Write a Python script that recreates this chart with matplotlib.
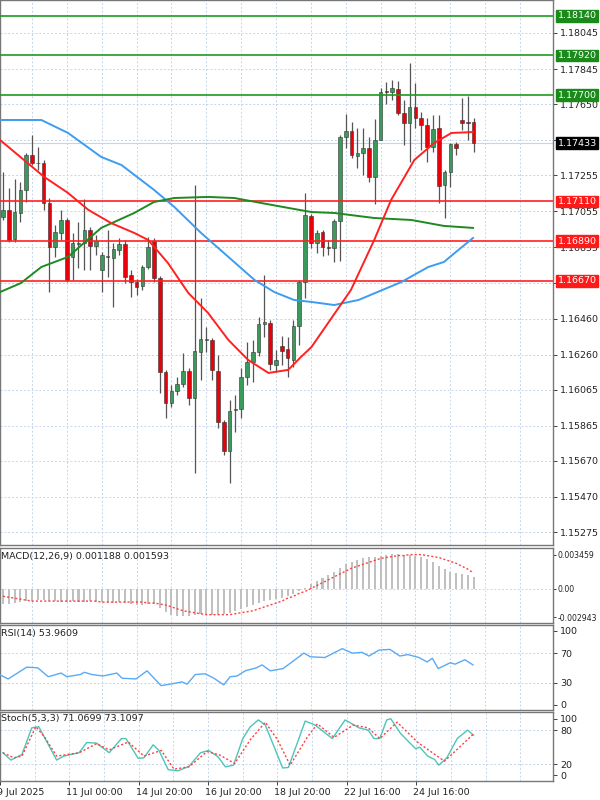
import matplotlib
matplotlib.use("Agg")
import matplotlib.pyplot as plt
import matplotlib.transforms as mtrans
import numpy as np

opens = [1.17024,1.17063,1.16902,1.17046,1.17174,1.17368,1.17323,1.17323,1.17101,1.16857,
         1.16935,1.17007,1.16802,1.16874,1.16879,1.16952,1.16863,1.16730,1.16802,1.16796,
         1.16840,1.16874,1.16702,1.16663,1.16641,1.16746,1.16891,1.16685,1.16163,1.15991,
         1.16058,1.16097,1.16169,1.16019,1.16274,1.16341,1.16341,1.16169,1.15886,1.15727,
         1.15953,1.15958,1.16136,1.16219,1.16274,1.16430,1.16435,1.16202,1.16308,1.16291,
         1.16230,1.16419,1.16663,1.17029,1.16879,1.16940,1.16857,1.16852,1.17001,1.17468,
         1.17501,1.17362,1.17379,1.17407,1.17246,1.17451,1.17723,1.17717,1.17734,1.17601,
         1.17545,1.17634,1.17573,1.17534,1.17412,1.17518,1.17202,1.17273,1.17429,1.17562,
         1.17551,1.17551]
closes = [1.17063,1.16896,1.17051,1.17174,1.17368,1.17323,1.17321,1.17101,1.16857,1.16940,
          1.17007,1.16674,1.16879,1.16879,1.16952,1.16863,1.16891,1.16813,1.16807,1.16846,
          1.16874,1.16691,1.16663,1.16635,1.16746,1.16857,1.16685,1.16163,1.15991,1.16058,
          1.16097,1.16169,1.16019,1.16280,1.16346,1.16343,1.16175,1.15886,1.15727,1.15947,
          1.15958,1.16136,1.16219,1.16274,1.16430,1.16441,1.16208,1.16230,1.16280,1.16241,
          1.16419,1.16663,1.17035,1.16879,1.16935,1.16857,1.16852,1.17001,1.17468,1.17501,
          1.17368,1.17379,1.17407,1.17246,1.17451,1.17717,1.17720,1.17740,1.17601,1.17545,
          1.17634,1.17573,1.17534,1.17412,1.17512,1.17196,1.17273,1.17429,1.17407,1.17545,
          1.17545,1.17433]
highs = [1.17273,1.17185,1.17235,1.17218,1.17379,1.17479,1.17412,1.17340,1.17129,1.16979,
         1.17063,1.17018,1.16935,1.16996,1.17124,1.16968,1.16924,1.16830,1.16952,1.16879,
         1.16907,1.16896,1.16730,1.16680,1.16757,1.16913,1.16907,1.16696,1.16175,1.16091,
         1.16136,1.16269,1.16186,1.17201,1.16574,1.16413,1.16352,1.16258,1.15897,1.16008,
         1.16036,1.16186,1.16330,1.16341,1.16469,1.16702,1.16452,1.16286,1.16363,1.16358,
         1.16452,1.16674,1.17157,1.17040,1.16952,1.16952,1.16896,1.17013,1.17479,1.17595,
         1.17551,1.17518,1.17518,1.17468,1.17568,1.17740,1.17773,1.17784,1.17778,1.17673,
         1.17878,1.17767,1.17606,1.17573,1.17590,1.17590,1.17285,1.17434,1.17440,1.17684,
         1.17695,1.17573]
lows = [1.17007,1.16885,1.16885,1.16996,1.17107,1.17312,1.17285,1.17063,1.16607,1.16802,
        1.16896,1.16663,1.16674,1.16741,1.16730,1.16730,1.16813,1.16607,1.16691,1.16524,
        1.16813,1.16657,1.16580,1.16591,1.16619,1.16735,1.16663,1.16047,1.15908,1.15969,
        1.16036,1.16080,1.15980,1.15603,1.16119,1.16274,1.16119,1.15853,1.15703,1.15547,
        1.15830,1.15908,1.16091,1.16108,1.16252,1.16358,1.16175,1.16163,1.16202,1.16136,
        1.16191,1.16313,1.16574,1.16852,1.16824,1.16807,1.16813,1.16774,1.16779,1.17407,
        1.17351,1.17296,1.17257,1.17218,1.17096,1.17451,1.17651,1.17673,1.17590,1.17423,
        1.17329,1.17518,1.17396,1.17329,1.17384,1.17101,1.17018,1.17190,1.17368,1.17507,
        1.17451,1.17384]

ma_fast_idx = [-0.5,7.1,11.2,14.7,18.6,22.6,25.0,28.4,31.9,35.3,38.8,42.2,45.7,49.1,51.3,53.1,58.7,59.9,63.9,66.8,70.8,74.2,77.2,80.9]
ma_fast = [1.17451,1.17246,1.17157,1.17063,1.16990,1.16935,1.16896,1.16768,1.16602,1.16491,1.16341,1.16230,1.16158,1.16175,1.16247,1.16302,1.16563,1.16619,1.16896,1.17118,1.17340,1.17434,1.17490,1.17495]
ma_mid_idx = [-0.5,6.6,11.2,16.9,20.4,26.0,29.5,34.1,38.8,43.3,46.7,50.1,53.1,57.0,61.2,68.6,73.2,75.9,78.4,80.9]
ma_mid = [1.17562,1.17562,1.17490,1.17357,1.17312,1.17174,1.17079,1.16935,1.16802,1.16674,1.16607,1.16563,1.16552,1.16535,1.16563,1.16663,1.16746,1.16774,1.16841,1.16907]
ma_slow_idx = [-0.5,3.1,6.6,11.2,16.9,22.6,26.0,29.5,35.3,39.8,44.5,49.1,53.1,57.0,63.9,70.3,75.9,80.9]
ma_slow = [1.16607,1.16657,1.16746,1.16802,1.16963,1.17046,1.17107,1.17129,1.17135,1.17129,1.17101,1.17074,1.17051,1.17046,1.17018,1.17007,1.16974,1.16963]

resist_levels = [1.18140, 1.17920, 1.17700]
support_levels = [1.17110, 1.16890, 1.16670]
last_price = 1.17433
price_ticks = [1.18045,1.17845,1.17650,1.17450,1.17255,1.17055,1.16855,1.16655,1.16460,1.16260,1.16065,1.15865,1.15670,1.15470,1.15275]
hidden_ticks = [1.17450, 1.16655]

macd_hist = [-16,-16,-15,-14,-13,-13, -12,-12,-13,-13,-14,-14,-13, -14,-14,-13,-14,-14,-15,-15,-14,
             -15,-16,-17,-17,-16,-16,-20, -24,-27,-28,-28,-28,-27, -26,-26,-27,-27,-26,-25,-23,
             -21,-19,-17,-15,-13,-12,-11,-10, -8,-6,-3,1,5,8,11, 14,17,21,25,27,29,31,
             32,33,34,35,36,36,35,35, 34,32,30,27,23,20,17, 16,15,14,12]
macd_signal = [-8,-9,-10,-11,-12,-13,-13,-13,-13,-13,-13, -13,-13,-13,-13,-13,-13,-14,-14,-14,-14,
               -14,-14,-14,-14,-15,-15,-16,-17,-19,-21, -23,-24,-25,-26,-27,-27,-27,-27,-27,-26,
               -25,-24,-23,-21,-19,-17,-15,-13,-10,-8, -5,-3,0,3,6,9,12,15,18,21,
               23,25,27,29,31,32,33,34,34,35, 35,35,34,33,32,30,28,26,23,20,16]

rsi_idx = [-0.5,0.9,4.1,6.0,7.8,10.0,11.0,13.3,14.0,15.3,17.2,19.6,20.5,22.9,24.8,27.2,28.8,30.8,31.7,33.1,34.8,36.3,38.0,39.1,40.3,41.7,43.6,44.6,46.0,48.2,51.8,52.9,55.4,58.4,60.1,61.8,63.0,64.7,66.6,68.3,69.7,71.6,73.0,73.9,74.9,77.0,77.8,79.5,80.9]
rsi_val = [40.5,35,51,50,38,43,38,41,44,41,39,43,36,35,46,26,28,31,28,41,42,36,27,38,39,46,50,54,46,49,70,65,64,76,70,71,66,74,75,66,68,64,58,63,49,57,55,61,54]

stk_idx = [-0.5,0.9,2.8,4.5,5.7,8.8,10.0,12.7,14.0,15.7,17.9,20.0,20.8,22.9,23.9,25.5,26.5,28.1,29.8,31.7,33.7,35.1,36.7,38.0,39.4,41.0,42.3,43.7,44.9,47.9,48.9,51.8,53.5,56.5,58.7,61.1,62.7,63.7,64.7,65.9,66.6,68.3,70.9,71.6,73.0,74.2,74.9,76.3,78.1,79.9,80.9]
stk_k = [40,27,37,84,86,27,34,40,58,57,40,65,65,30,31,54,44,10,8,16,40,44,33,15,18,65,86,98,89,13,14,96,89,65,98,84,80,65,65,98,100,74,47,50,34,28,18,31,65,80,71]
std_idx = [-0.5,1.4,2.8,5.2,6.7,8.8,12.7,15.7,17.9,21.2,23.9,26.9,29.1,31.7,34.8,37.0,39.6,42.3,44.9,47.0,49.2,52.2,53.9,56.8,60.1,62.7,64.7,67.7,71.3,75.9,80.9]
std_d = [40,31,34,86,68,34,40,56,45,59,34,44,11,15,42,36,21,63,94,63,18,68,91,67,89,84,65,94,58,25,73]

date_idx = [-1, 11, 23, 35, 47, 59, 71]
date_labels = ["9 Jul 2025", "11 Jul 00:00", "14 Jul 20:00", "16 Jul 20:00", "18 Jul 20:00", "22 Jul 16:00", "24 Jul 16:00"]

W, H = 600, 800
fig = plt.figure(figsize=(6, 8), dpi=100)
fig.patch.set_facecolor("white")
RIGHT = 553 / W
def box(top, bot):
    return [0, 1 - bot / H, RIGHT, (bot - top) / H]

ax = fig.add_axes(box(0, 545))
axm = fig.add_axes(box(548, 623))
axr = fig.add_axes(box(625, 710))
axs = fig.add_axes(box(712, 781))

XL = (-0.51, 94.67)
grid_x = np.arange(5, 95, 6)
GRID = dict(color="#c5d5ea", linestyle=(0, (2, 2)), linewidth=0.7)
FS = 6.8

for a in (ax, axm, axr, axs):
    a.set_xlim(*XL)
    a.set_xticks([])
    for gx in grid_x:
        a.axvline(gx, zorder=0, **GRID)
    for s in a.spines.values():
        s.set_color("#777777"); s.set_linewidth(1.0)
    a.yaxis.tick_right()
    a.tick_params(axis="y", labelsize=FS, length=3, pad=2, colors="#222222", width=0.6)

# main chart
ax.set_ylim(1.15203, 1.18228)
ax.set_yticks(price_ticks)
ax.set_yticklabels(["" if p in hidden_ticks else f"{p:.5f}" for p in price_ticks])
for p in price_ticks:
    ax.axhline(p, zorder=0, **GRID)
ax.axhline(last_price, color="#c8d4e6", lw=0.8, zorder=0.5)
green_c, red_c = "#3a9a5c", "#e8000b"
for i, (o, c, h, l) in enumerate(zip(opens, closes, highs, lows)):
    ax.vlines(i, l, h, color="#555555", lw=0.9, zorder=2)
    col = green_c if c >= o else red_c
    lo, hi = min(o, c), max(o, c)
    if hi - lo < 0.00003:
        hi = lo + 0.00003
    ax.bar(i, hi - lo, bottom=lo, width=0.62, color=col, edgecolor="#333333", linewidth=0.4, zorder=3)
for lv in resist_levels:
    ax.axhline(lv, color="#1f9a1f", lw=1.2, zorder=4)
for lv in support_levels:
    ax.axhline(lv, color="#ff2020", lw=1.2, zorder=4)
ax.plot(ma_mid_idx, ma_mid, color="#3d9cf0", lw=1.4, zorder=5)
ax.plot(ma_slow_idx, ma_slow, color="#1f8a1f", lw=1.4, zorder=5)
ax.plot(ma_fast_idx, ma_fast, color="#ff2020", lw=1.4, zorder=5)
tr = mtrans.blended_transform_factory(ax.transAxes, ax.transData)
def tag(v, fc):
    ax.text(1.008, v, f"{v:.5f}", transform=tr, fontsize=FS, color="white", va="center", ha="left",
            bbox=dict(boxstyle="square,pad=0.15", fc=fc, ec=fc), zorder=10, clip_on=False)
for lv in resist_levels:
    tag(lv, "#1a8a1a")
for lv in support_levels:
    tag(lv, "#ff1a1a")
tag(last_price, "#000000")

# MACD
axm.set_ylim(-0.00356, 0.00418)
axm.bar(range(len(macd_hist)), np.array(macd_hist) * 1e-4, width=0.35, color="#c0c0c0", zorder=2)
axm.plot(range(len(macd_signal)), np.array(macd_signal) * 1e-4, color="#ff4040", lw=1.0, linestyle=(0, (1.5, 1.5)), zorder=3)
mt = [0.003459, 0.0, -0.002943]
axm.set_yticks(mt); axm.set_yticklabels(["0.003459", "0.00", "-0.002943"])
axm.tick_params(axis="y", labelsize=5.6, pad=1, length=2)
axm.axhline(0, zorder=0, **GRID)
axm.text(0.002, 0.95, "MACD(12,26,9) 0.001188 0.001593", transform=axm.transAxes, fontsize=FS, va="top", ha="left", color="#222222")

# RSI
axr.set_ylim(-7, 108)
axr.plot(rsi_idx, rsi_val, color="#5aaaf5", lw=1.0, zorder=3)
axr.set_yticks([100, 70, 30, 0])
for v in (70, 30):
    axr.axhline(v, zorder=0, **GRID)
axr.text(0.002, 0.95, "RSI(14) 53.9609", transform=axr.transAxes, fontsize=FS, va="top", ha="left", color="#222222")

# Stochastic
axs.set_ylim(-10, 112)
axs.plot(stk_idx, stk_k, color="#4fc4b8", lw=1.0, zorder=3)
axs.plot(std_idx, std_d, color="#ff4040", lw=1.0, linestyle=(0, (1.5, 1.5)), zorder=3)
axs.set_yticks([100, 80, 20, 0])
for v in (80, 20):
    axs.axhline(v, zorder=0, **GRID)
axs.text(0.002, 0.97, "Stoch(5,3,3) 71.0699 73.1097", transform=axs.transAxes, fontsize=FS, va="top", ha="left", color="#222222")

axs.set_xticks(date_idx)
axs.set_xticklabels(date_labels, fontsize=FS, ha="left", color="#222222")
axs.tick_params(axis="x", length=3, pad=2, width=0.6, colors="#222222")
offs = mtrans.ScaledTranslation(-3 / 100, 0, fig.dpi_scale_trans)
for lab in axs.get_xticklabels():
    lab.set_transform(lab.get_transform() + offs)

fig.savefig("out.png", dpi=100, facecolor="white")
